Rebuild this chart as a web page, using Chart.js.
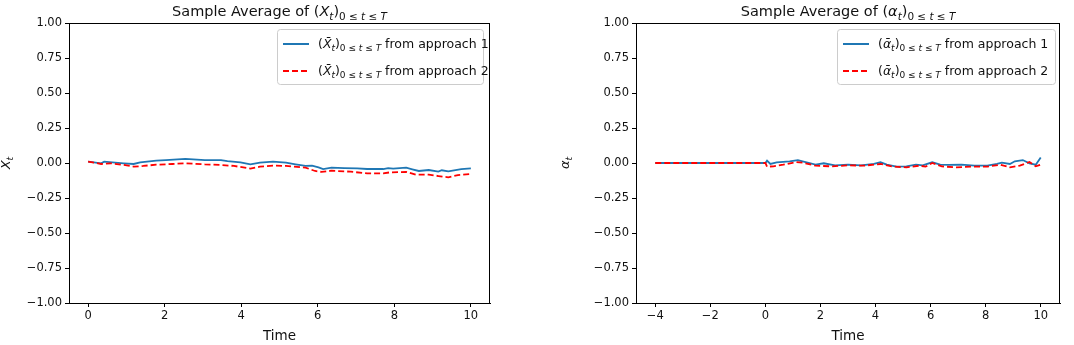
<!DOCTYPE html>
<html><head><meta charset="utf-8">
<script src="https://cdn.jsdelivr.net/npm/chart.js@4/dist/chart.umd.min.js"></script>
<style>
html,body{margin:0;padding:0;background:#fff;}
#wrap{position:relative;width:1074px;height:345px;}
.c{position:absolute;top:0;width:537px;height:345px;}
</style></head>
<body>
<div id="wrap">
<div class="c" style="left:0"><canvas id="cL" width="537" height="345"></canvas></div>
<div class="c" style="left:537px"><canvas id="cR" width="537" height="345"></canvas></div>
</div>
<script>
// ---- data ----
const tBlueL = [0,0.34,0.42,0.93,1.19,1.36,1.78,2.03,2.54,3.05,3.47,3.64,3.98,4.24,4.49,4.83,5.17,5.42,5.68,5.85,6.02,6.14,6.36,6.69,7.03,7.29,7.71,7.84,7.97,8.31,8.47,8.64,8.9,9.15,9.24,9.41,9.75,10];
const yBlueL = [0.010,-0.002,0.010,-0.002,-0.007,0.005,0.017,0.021,0.029,0.021,0.021,0.014,0.005,-0.010,0.002,0.010,0.002,-0.010,-0.021,-0.019,-0.031,-0.043,-0.033,-0.036,-0.038,-0.043,-0.043,-0.036,-0.040,-0.033,-0.045,-0.057,-0.050,-0.062,-0.052,-0.060,-0.043,-0.038];
const tRedL = [0,0.34,0.59,0.93,1.19,1.44,1.78,2.2,2.54,3.05,3.47,3.81,4.24,4.49,4.83,5.17,5.68,5.93,6.1,6.36,6.86,7.29,7.71,7.88,8.31,8.56,8.9,9.15,9.41,9.66,9.96];
const yRedL = [0.010,-0.007,-0.002,-0.014,-0.026,-0.021,-0.012,-0.007,-0.002,-0.010,-0.014,-0.021,-0.040,-0.026,-0.019,-0.021,-0.033,-0.057,-0.064,-0.055,-0.062,-0.074,-0.074,-0.067,-0.064,-0.083,-0.083,-0.093,-0.102,-0.086,-0.079];
const tBlueR = [-4,-2,0,0.06,0.18,0.41,0.88,1.18,1.35,1.82,2.12,2.53,3.0,3.47,3.94,4.18,4.41,4.76,5.12,5.47,5.71,6.06,6.35,6.65,7.12,7.59,8.06,8.41,8.59,8.88,9.06,9.35,9.59,9.82,10];
const yBlueR = [0,0,0,0.017,-0.007,0.005,0.012,0.021,0.012,-0.012,-0.002,-0.017,-0.012,-0.017,-0.007,0.005,-0.012,-0.026,-0.024,-0.012,-0.017,0.005,-0.012,-0.014,-0.012,-0.019,-0.019,-0.007,0.002,-0.007,0.012,0.021,-0.002,-0.012,0.040];
const tRedR = [-4,-2,0,0.06,0.29,0.65,1.12,1.35,1.82,2.41,3.0,3.59,4.18,4.65,5.12,5.59,5.82,6.06,6.41,6.88,7.47,8.06,8.53,8.88,9.24,9.59,9.82,10];
const yRedR = [0,0,0,-0.026,-0.024,-0.012,0.007,0.002,-0.019,-0.024,-0.017,-0.019,-0.007,-0.026,-0.031,-0.019,-0.026,0,-0.024,-0.031,-0.026,-0.026,-0.012,-0.031,-0.019,0.007,-0.024,-0.012];
const xTicksL = [0,2,4,6,8,10];
const xTicksR = [-4,-2,0,2,4,6,8,10];
const yTicks = [-1,-0.75,-0.5,-0.25,0,0.25,0.5,0.75,1];
const legendText1 = 'from approach 1';
const legendText2 = 'from approach 2';
const xTitle = 'Time';

const FONT = '"DejaVu Sans", sans-serif';
const BLUE = '#1f77b4', RED = '#ff0000';

function pts(t, y){ return t.map((v,i)=>({x:v,y:y[i]})); }
function fmtY(v){ const s = Math.abs(v).toFixed(2); return (v < -1e-9 ? '\u2212' : '') + s; }
function fmtX(v){ return (v < 0 ? '\u2212' : '') + Math.abs(v); }

// rich text: segments {t, i (italic), s (subscript)}
function segFont(seg, size){ const sz = seg.s ? size*0.72 : size; return (seg.i?'italic ':'') + sz + 'px ' + FONT; }
function richWidth(ctx, segs, size){ let w=0; for(const s of segs){ ctx.font = segFont(s,size); w += ctx.measureText(s.t).width; } return w; }
function drawRich(ctx, segs, x, y, size, align){
  const w = richWidth(ctx, segs, size);
  let cx = align==='center' ? x - w/2 : x;
  ctx.textBaseline = 'alphabetic'; ctx.textAlign = 'left';
  for(const s of segs){ ctx.font = segFont(s,size); ctx.fillText(s.t, cx, y + (s.s ? size*0.26 : 0)); cx += ctx.measureText(s.t).width; }
  return w;
}
const subRange = [{t:'0',s:1},{t:' \u2264 ',s:1},{t:'t',s:1,i:1},{t:' \u2264 ',s:1},{t:'T',s:1,i:1}];

function makeChart(id, cfg){
  const texts = cfg.texts;
  const deco = {
    id:'deco',
    afterDraw(chart){
      const ctx = chart.ctx, a = chart.chartArea;
      ctx.save();
      // frame
      ctx.strokeStyle = '#000'; ctx.lineWidth = 1;
      ctx.strokeRect(Math.round(a.left)+0.5, Math.round(a.top)+0.5, Math.round(a.right-a.left)-1, Math.round(a.bottom-a.top));
      ctx.fillStyle = '#111';
      // title
      drawRich(ctx, texts.title, (a.left+a.right)/2, 16, 14.5, 'center');
      // y label
      ctx.save(); ctx.translate(cfg.ylabX, (a.top+a.bottom)/2); ctx.rotate(-Math.PI/2);
      drawRich(ctx, texts.ylab, 0, 0, 13, 'center'); ctx.restore();
      // legend
      const L = cfg.legend;
      ctx.fillStyle = 'rgba(255,255,255,0.8)'; ctx.strokeStyle = '#cccccc'; ctx.lineWidth = 1;
      ctx.beginPath(); if(ctx.roundRect) ctx.roundRect(L.x+0.5, L.y+0.5, L.w, L.h, 3); else ctx.rect(L.x+0.5,L.y+0.5,L.w,L.h);
      ctx.fill(); ctx.stroke();
      const rows = [{c:BLUE, dash:[], label:texts.leg1},{c:RED, dash:[6,3], label:texts.leg2}];
      rows.forEach((r,k)=>{
        const yy = L.y + 15 + k*27;
        ctx.strokeStyle = r.c; ctx.lineWidth = 2; ctx.setLineDash(r.dash);
        ctx.beginPath(); ctx.moveTo(L.x+6, yy); ctx.lineTo(L.x+32, yy); ctx.stroke(); ctx.setLineDash([]);
        ctx.fillStyle = '#111';
        drawRich(ctx, r.label, L.x+41, yy+4, 12.5, 'left');
      });
      ctx.restore();
    }
  };
  return new Chart(document.getElementById(id), {
    type:'line',
    data:{ datasets:[
      {data:pts(cfg.tb, cfg.yb), borderColor:BLUE, borderWidth:1.8, pointRadius:0, tension:0, fill:false, order:2},
      {data:pts(cfg.tr, cfg.yr), borderColor:RED, borderWidth:1.8, borderDash:[6,3], pointRadius:0, tension:0, fill:false, order:1}
    ]},
    options:{
      responsive:false, animation:false, events:[],
      layout:{padding:{left:0, right:cfg.padRight, top:23, bottom:0}},
      plugins:{legend:{display:false}, tooltip:{enabled:false}, title:{display:false}},
      scales:{
        x:{type:'linear', min:cfg.xmin, max:cfg.xmax,
           afterBuildTicks(s){ s.ticks = cfg.xticks.map(v=>({value:v})); },
           afterFit(s){ s.height = 42; },
           ticks:{callback:v=>fmtX(v), color:'#111', font:{family:FONT,size:11.5}, padding:2, maxRotation:0, autoSkip:false},
           grid:{drawOnChartArea:false, drawTicks:true, tickLength:4, color:'#000'},
           border:{display:true, color:'#000', width:1},
           title:{display:true, text:xTitle, color:'#111', font:{family:FONT,size:13.5}, padding:{top:0,bottom:0}}},
        y:{type:'linear', min:-1, max:1,
           afterBuildTicks(s){ s.ticks = yTicks.map(v=>({value:v})); },
           afterFit(s){ s.width = cfg.yw; },
           ticks:{callback:v=>fmtY(v), color:'#111', font:{family:FONT,size:11.5}, padding:3, autoSkip:false},
           grid:{drawOnChartArea:false, drawTicks:true, tickLength:4, color:'#000'},
           border:{display:true, color:'#000', width:1}}
      }
    },
    plugins:[deco]
  });
}

makeChart('cL', {
  tb:tBlueL, yb:yBlueL, tr:tRedL, yr:yRedL, xmin:-0.5, xmax:10.5, xticks:xTicksL,
  yw:69, padRight:47, ylabX:10,
  legend:{x:277, y:29, w:206, h:55},
  texts:{
    title:[{t:'Sample Average of ('},{t:'X',i:1},{t:'t',i:1,s:1},{t:')'}].concat(subRange),
    ylab:[{t:'X',i:1},{t:'t',i:1,s:1}],
    leg1:[{t:'('},{t:'X\u0304',i:1},{t:'t',i:1,s:1},{t:')'}].concat(subRange,[{t:' '+legendText1}]),
    leg2:[{t:'('},{t:'X\u0304',i:1},{t:'t',i:1,s:1},{t:')'}].concat(subRange,[{t:' '+legendText2}])
  }
});
makeChart('cR', {
  tb:tBlueR, yb:yBlueR, tr:tRedR, yr:yRedR, xmin:-4.7, xmax:10.7, xticks:xTicksR,
  yw:99, padRight:14, ylabX:32,
  legend:{x:300, y:29, w:218, h:55},
  texts:{
    title:[{t:'Sample Average of ('},{t:'\u03b1',i:1},{t:'t',i:1,s:1},{t:')'}].concat(subRange),
    ylab:[{t:'\u03b1',i:1},{t:'t',i:1,s:1}],
    leg1:[{t:'('},{t:'\u03b1\u0304',i:1},{t:'t',i:1,s:1},{t:')'}].concat(subRange,[{t:' '+legendText1}]),
    leg2:[{t:'('},{t:'\u03b1\u0304',i:1},{t:'t',i:1,s:1},{t:')'}].concat(subRange,[{t:' '+legendText2}])
  }
});
</script>
</body></html>
